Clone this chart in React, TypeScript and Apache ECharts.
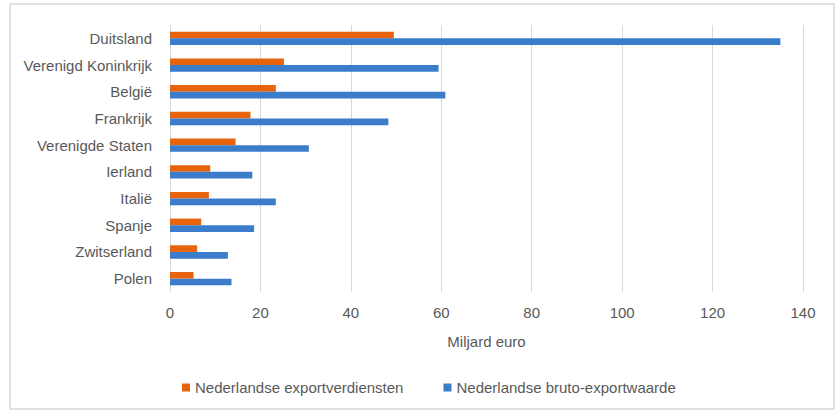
import React, { useEffect, useRef } from "react";
import * as echarts from "echarts";

const categories = [
  "Duitsland",
  "Verenigd Koninkrijk",
  "België",
  "Frankrijk",
  "Verenigde Staten",
  "Ierland",
  "Italië",
  "Spanje",
  "Zwitserland",
  "Polen",
];
const exportverdiensten = [49.5, 25.2, 23.4, 17.8, 14.5, 8.9, 8.6, 6.9, 6.0, 5.2];
const brutoExportwaarde = [135.0, 59.4, 60.9, 48.3, 30.7, 18.2, 23.4, 18.6, 12.8, 13.6];
const seriesNames = ["Nederlandse exportverdiensten", "Nederlandse bruto-exportwaarde"];
const axisName = "Miljard euro";

export default function App() {
  const ref = useRef<HTMLDivElement>(null);
  useEffect(() => {
    if (!ref.current) return;
    const chart = echarts.init(ref.current, undefined, { renderer: "svg" });
    const textColor = "#595959";
    const font = "'Liberation Sans', Arial, sans-serif";
    chart.setOption({
      animation: false,
      backgroundColor: "#ffffff",
      graphic: [
        {
          type: "rect",
          shape: { x: 10, y: 4, width: 824, height: 405 },
          style: { fill: "none", stroke: "#d9d9d9", lineWidth: 1.5 },
          silent: true,
        },
      ],
      grid: { left: 170, right: 35, top: 25, bottom: 119 },
      legend: {
        left: 177,
        top: 375,
        itemWidth: 8,
        itemHeight: 8,
        itemGap: 40,
        icon: "rect",
        textStyle: { color: textColor, fontSize: 15, fontFamily: font },
        data: seriesNames,
      },
      xAxis: {
        type: "value",
        min: 0,
        max: 140,
        interval: 20,
        name: axisName,
        nameLocation: "middle",
        nameGap: 42,
        nameTextStyle: { color: textColor, fontSize: 15, fontFamily: font },
        axisLine: { show: false },
        axisTick: { show: false },
        axisLabel: { color: textColor, fontSize: 15, fontFamily: font, margin: 13 },
        splitLine: { lineStyle: { color: "#d9d9d9", width: 1 } },
      },
      yAxis: {
        type: "category",
        data: categories,
        inverse: true,
        axisLine: { show: false },
        axisTick: { show: false },
        axisLabel: { color: textColor, fontSize: 15, fontFamily: font, margin: 18 },
        splitLine: { show: false },
      },
      series: [
        {
          name: seriesNames[0],
          type: "bar",
          data: exportverdiensten,
          barCategoryGap: "50%",
          barGap: "0%",
          itemStyle: { color: "#E8640C" },
        },
        {
          name: seriesNames[1],
          type: "bar",
          data: brutoExportwaarde,
          barCategoryGap: "50%",
          barGap: "0%",
          itemStyle: { color: "#3C7DCB" },
        },
      ],
    });
    return () => chart.dispose();
  }, []);
  return (
    <div
      ref={ref}
      style={{ position: "fixed", left: 0, top: 0, width: 838, height: 411 }}
    />
  );
}
